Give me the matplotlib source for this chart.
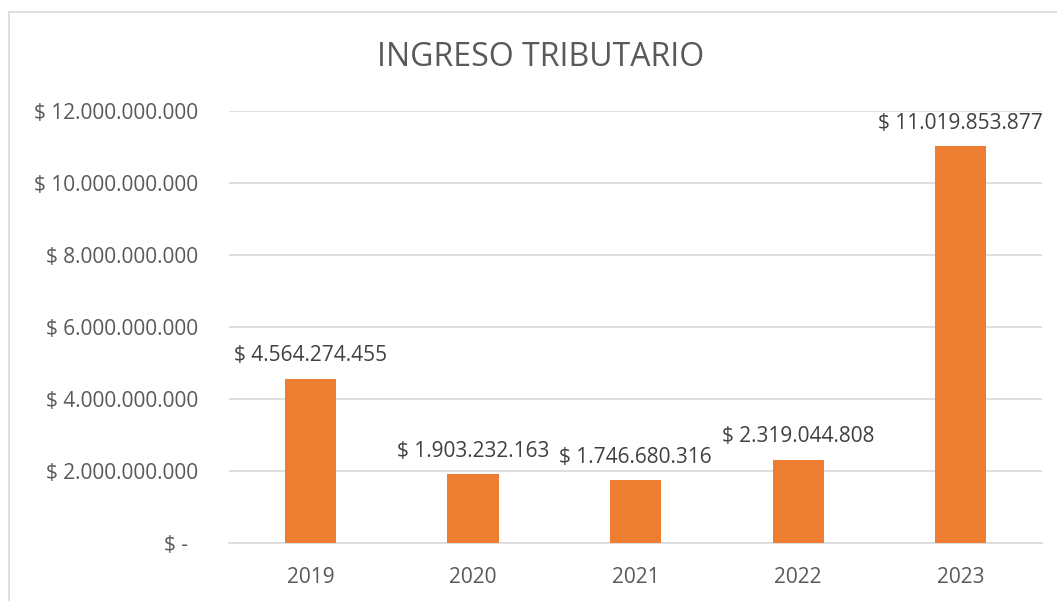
import matplotlib.pyplot as plt
from matplotlib.patches import Rectangle
from matplotlib.ticker import FuncFormatter

years = ["2019", "2020", "2021", "2022", "2023"]
ingresos = [4564274455, 1903232163, 1746680316, 2319044808, 11019853877]
yticks = [0, 2e9, 4e9, 6e9, 8e9, 10e9, 12e9]

bar_color = "#ED7D31"
text_color = "#595959"
label_color = "#404040"
grid_color = "#D9D9D9"

plt.rcParams["font.family"] = ["Open Sans", "DejaVu Sans"]


def pesos(v, pos=None):
    if v == 0:
        return "$ -  "
    return "$ " + f"{int(round(v)):,}".replace(",", ".")


fig = plt.figure(figsize=(10.57, 6.01), dpi=100)
ax = fig.add_axes([0.2167, 0.0965, 0.7691, 0.7188])

x = range(len(years))
bars = ax.bar(x, ingresos, width=0.315, color=bar_color, zorder=3)

ax.set_ylim(0, 12e9)
ax.set_xlim(-0.5, len(years) - 0.5)
ax.set_yticks(yticks)
ax.yaxis.set_major_formatter(FuncFormatter(pesos))
ax.set_xticks(list(x))
ax.set_xticklabels(years)
ax.tick_params(axis="both", length=0, labelsize=15, labelcolor=text_color)
ax.tick_params(axis="y", pad=22)
ax.tick_params(axis="x", pad=17)

ax.grid(axis="y", color=grid_color, linewidth=1.2, zorder=0)
for side in ["top", "right", "left"]:
    ax.spines[side].set_visible(False)
ax.spines["bottom"].set_color(grid_color)
ax.spines["bottom"].set_linewidth(1.2)

# etiquetas de valor sobre cada barra
for b, v in zip(bars, ingresos):
    ax.annotate(pesos(v), (b.get_x() + b.get_width() / 2, v),
                xytext=(0, 9), textcoords="offset points",
                ha="center", va="bottom", fontsize=15, color=label_color)

fig.text(0.511, 0.905, "INGRESO TRIBUTARIO", ha="center", va="center",
         fontsize=23, color=text_color)

# marco del área del gráfico
fig.patches.append(Rectangle((9 / 1057, -0.1), 1.2, 1.1 - 12 / 601,
                             transform=fig.transFigure, fill=False,
                             edgecolor=grid_color, linewidth=1.2))

fig.savefig("out.png", dpi=100, facecolor="white")
